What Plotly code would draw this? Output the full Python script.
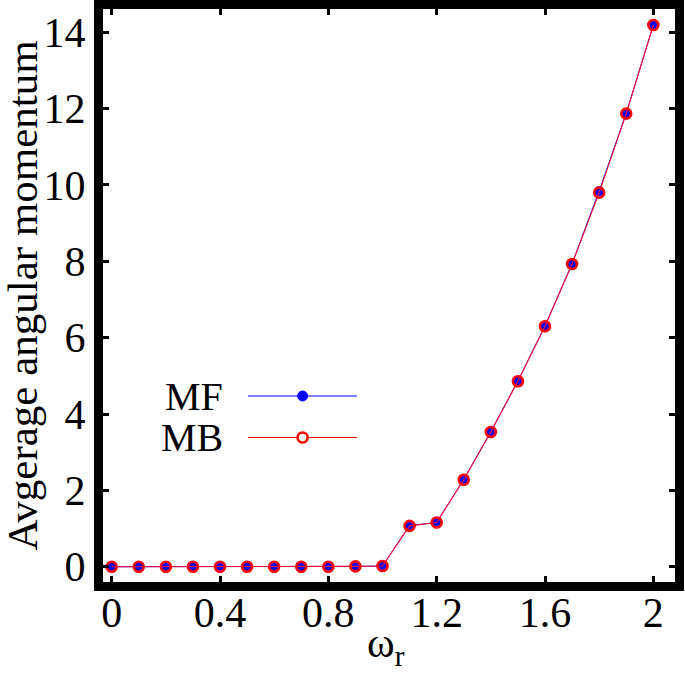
import plotly.graph_objects as go

omega = [0.0, 0.1, 0.2, 0.3, 0.4, 0.5, 0.6, 0.7, 0.8, 0.9, 1.0,
         1.1, 1.2, 1.3, 1.4, 1.5, 1.6, 1.7, 1.8, 1.9, 2.0]
mf_values = [0.0, 0.0, 0.0, 0.0, 0.0, 0.0, 0.0, 0.0, 0.0, 0.01, 0.02,
             1.08, 1.16, 2.29, 3.54, 4.87, 6.31, 7.94, 9.84, 11.88, 14.19]
mb_values = [0.0, 0.0, 0.0, 0.0, 0.0, 0.0, 0.0, 0.0, 0.0, 0.01, 0.02,
             1.07, 1.16, 2.28, 3.53, 4.86, 6.30, 7.93, 9.80, 11.87, 14.19]
x_ticks = [0, 0.4, 0.8, 1.2, 1.6, 2]
y_ticks = [0, 2, 4, 6, 8, 10, 12, 14]
series_names = ["MF", "MB"]

FONT = "Liberation Serif, Times New Roman, serif"

fig = go.Figure()
fig.add_trace(go.Scatter(
    x=omega, y=mf_values, mode="lines+markers", name=series_names[0],
    line=dict(color="#0000ff", width=1),
    marker=dict(symbol="circle", size=10, color="#0000ff"),
    showlegend=False))
fig.add_trace(go.Scatter(
    x=omega, y=mb_values, mode="lines+markers", name=series_names[1],
    line=dict(color="#ff1030", width=1.1),
    marker=dict(symbol="circle-open", size=10, color="#ff0000",
                line=dict(width=2.6, color="#ff0000")),
    showlegend=False))

axis_common = dict(
    showline=True, linecolor="black", linewidth=9, mirror="allticks",
    ticks="inside", ticklen=6, tickwidth=3, tickcolor="black",
    showgrid=False, zeroline=False,
    tickfont=dict(family=FONT, size=42, color="black"),
)
fig.update_xaxes(range=[-0.032, 2.08], tickvals=x_ticks,
                 ticktext=[str(t) for t in x_ticks], ticklabelstandoff=-14,
                 **axis_common)
fig.update_yaxes(range=[-0.40, 14.61], tickvals=y_ticks,
                 ticklabelstandoff=0, **axis_common)

annotations = [
    dict(text="Avgerage angular momentum", xref="paper", yref="paper",
         x=-0.1416, y=0.5, xanchor="center", yanchor="middle",
         textangle=-90, showarrow=False,
         font=dict(family=FONT, size=43, color="black")),
    dict(text="ω<sub>r</sub>", xref="paper", yref="paper",
         x=0.495, y=-0.112, xanchor="center", yanchor="middle",
         showarrow=False, font=dict(family=FONT, size=42, color="black")),
]

# manual legend (text left of sample, gnuplot style)
leg_y = [0.3246, 0.2522]
leg_colors = ["#0000ff", "#ff0000"]
shapes = []
for name, ly, col, i in zip(series_names, leg_y, leg_colors, range(2)):
    annotations.append(dict(text=name, xref="paper", yref="paper",
                            x=0.213, y=ly, xanchor="right", yanchor="middle",
                            showarrow=False,
                            font=dict(family=FONT, size=40, color="black")))
    shapes.append(dict(type="line", xref="paper", yref="paper",
                       x0=0.2535, x1=0.444, y0=ly, y1=ly,
                       line=dict(color=col, width=1)))
    if i == 0:
        shapes.append(dict(type="circle", xref="paper", yref="paper",
                           xsizemode="pixel", ysizemode="pixel",
                           xanchor=0.349, yanchor=ly,
                           x0=-5, x1=5, y0=-5, y1=5,
                           fillcolor=col, line=dict(color=col, width=1)))
    else:
        shapes.append(dict(type="circle", xref="paper", yref="paper",
                           xsizemode="pixel", ysizemode="pixel",
                           xanchor=0.349, yanchor=ly,
                           x0=-5, x1=5, y0=-5, y1=5,
                           fillcolor="white", line=dict(color=col, width=2.6)))

fig.update_layout(
    width=685, height=676,
    margin=dict(l=103, r=10, t=9, b=94, autoexpand=False),
    paper_bgcolor="white", plot_bgcolor="white",
    annotations=annotations, shapes=shapes,
    showlegend=False,
)

fig.write_html("out.html",
               config={"displayModeBar": False},
               post_script="document.body.style.margin='0';"
                           "document.body.style.overflow='hidden';")
